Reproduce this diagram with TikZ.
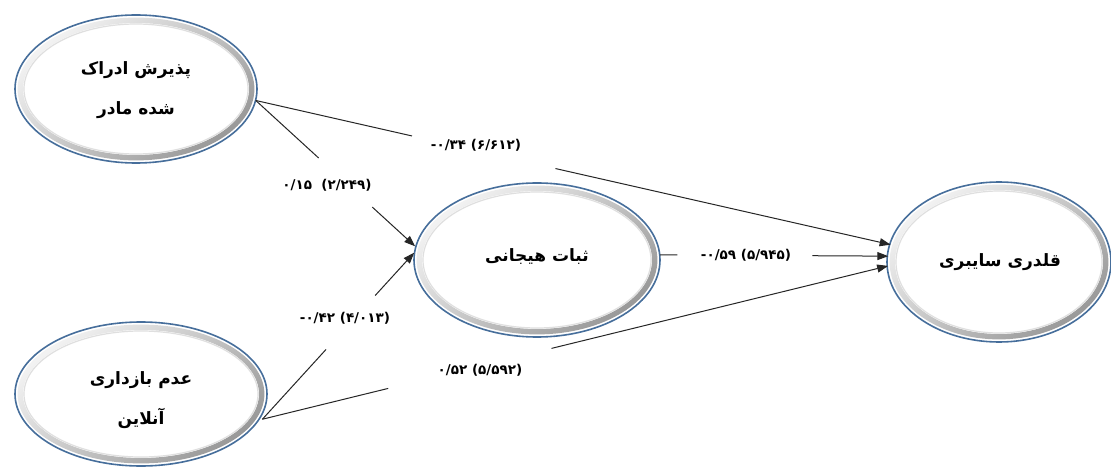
\documentclass[tikz,border=0pt]{standalone}
\usepackage{fontspec}
\usetikzlibrary{shapes.geometric,arrows.meta,calc}
\TeXXeTstate=1
\newfontfamily\fa[Script=Arabic]{DejaVu Sans}
\definecolor{rimblue}{RGB}{70,110,155}
\newcommand\bubbledeco[4]{%
  \fill[white] (#1,#2) ellipse [x radius=#3pt, y radius=#4pt];
  \shade[even odd rule, top color=gray!10, bottom color=gray!80, shading angle=40]
    (#1,#2) ellipse [x radius=#3pt-2.6pt, y radius=#4pt-2.6pt]
    (#1,#2) ellipse [x radius=#3pt-8pt, y radius=#4pt-8pt];
  \draw[gray!25, line width=1.2pt] (#1,#2) ellipse [x radius=#3pt-9pt, y radius=#4pt-9pt];
  \draw[rimblue, line width=1.6pt] (#1,#2) ellipse [x radius=#3pt, y radius=#4pt];
}
\newcommand\mneg{\mbox{-}}
\tikzset{
  bubble/.style={ellipse, inner sep=0pt, outer sep=0pt, align=center,
    font=\fa\bfseries\fontsize{17}{40}\selectfont},
  lab/.style={inner sep=1pt, font=\fa\bfseries\fontsize{13.5}{16}\selectfont},
  conn/.style={black!85, line width=1pt},
  arr/.style={conn, -{Triangle[length=11pt,width=8pt]}}
}
\begin{document}
\begin{tikzpicture}[x=1pt,y=-1pt]
\useasboundingbox (0,0) rectangle (1111,470);
\fill[white] (0,0) rectangle (1111,470);
% decorations
\bubbledeco{136}{89}{121}{74}
\bubbledeco{141}{394}{126}{72}
\bubbledeco{537}{260}{123}{77}
\bubbledeco{999}{262}{112}{80}
% nodes
\node[bubble, minimum width=242pt, minimum height=148pt] (e1) at (136,90)
  {\beginR پذیرش ادراک\endR\\\beginR شده مادر\endR};
\node[bubble, minimum width=252pt, minimum height=144pt] (e2) at (141,400)
  {\beginR عدم بازداری\endR\\\beginR آنلاین\endR};
\node[bubble, minimum width=246pt, minimum height=154pt] (e3) at (537,257)
  {\beginR ثبات هیجانی\endR};
\node[bubble, minimum width=224pt, minimum height=160pt] (e4) at (1000,262)
  {\beginR قلدری سایبری\endR};
% connectors
\draw[conn] (e1.-5) -- ($(e1.-5)!0.246!(e4.171)$);
\draw[arr] ($(e1.-5)!0.472!(e4.171)$) -- (e4.171);
\draw[conn] (e1.-5) -- ($(e1.-5)!0.394!(e3.175)$);
\draw[arr] ($(e1.-5)!0.731!(e3.175)$) -- (e3.175);
\draw[conn] (e2.-9) -- ($(e2.-9)!0.419!(e3.178)$);
\draw[arr] ($(e2.-9)!0.743!(e3.178)$) -- (e3.178);
\draw[conn] (e2.-9) -- ($(e2.-9)!0.201!(e4.182)$);
\draw[arr] ($(e2.-9)!0.462!(e4.182)$) -- (e4.182);
\draw[conn] (e3.1) -- ($(e3.1)!0.076!(e4.177)$);
\draw[arr] ($(e3.1)!0.667!(e4.177)$) -- (e4.177);
% labels
\node[lab] (l1) at (476,145) {\beginR\beginL\mneg۰/۳۴ (۶/۶۱۲)\endL\endR};
\node[lab] (l2) at (327,185) {\beginR\beginL۰/۱۵\ \ (۲/۲۴۹)\endL\endR};
\node[lab] (l3) at (345,318) {\beginR\beginL\mneg۰/۴۲ (۴/۰۱۳)\endL\endR};
\node[lab] (l4) at (480,370) {\beginR\beginL۰/۵۲ (۵/۵۹۲)\endL\endR};
\node[lab] (l5) at (746,255) {\beginR\beginL\mneg۰/۵۹ (۵/۹۴۵)\endL\endR};
\end{tikzpicture}
\end{document}
